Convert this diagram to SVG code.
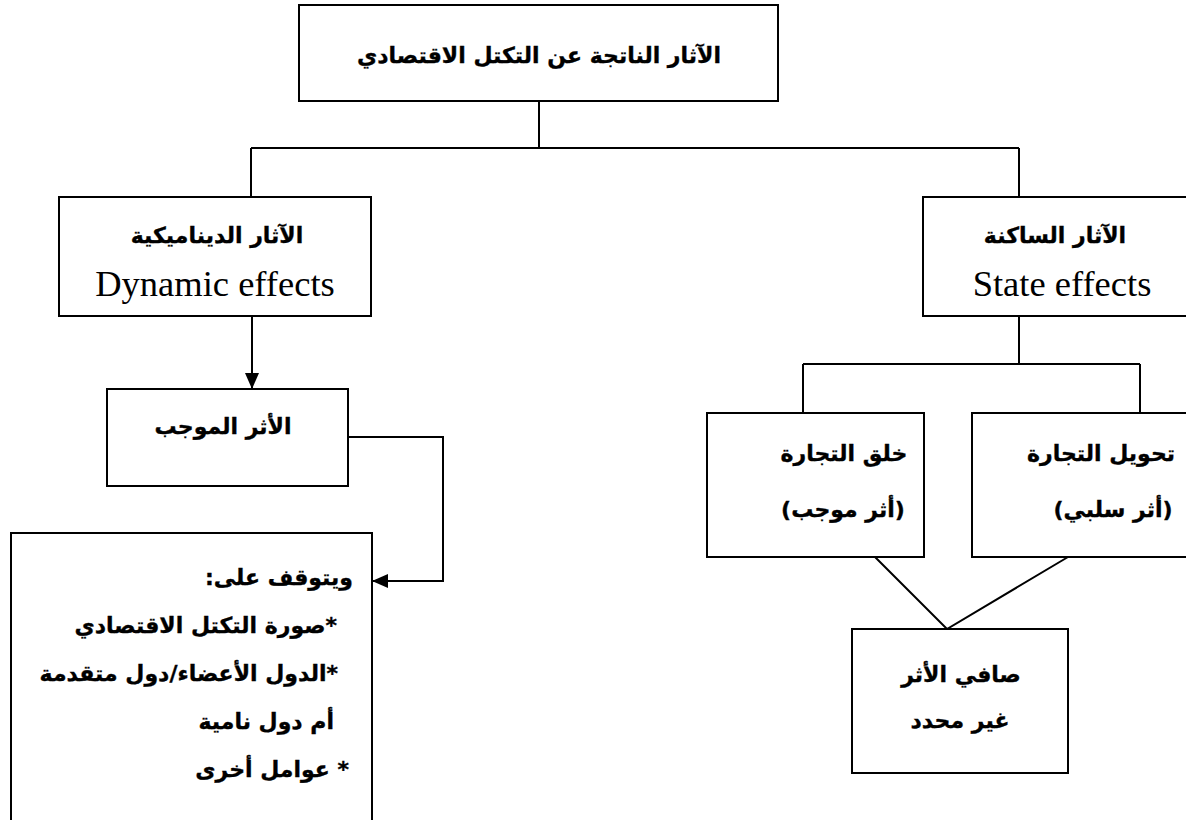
<svg xmlns="http://www.w3.org/2000/svg" width="1186" height="820" viewBox="0 0 1186 820">
<defs>
<style>
.box{fill:#fff;stroke:#000;stroke-width:2}
.ln{fill:none;stroke:#000;stroke-width:2}
.ar{font-family:"DejaVu Sans",sans-serif;font-weight:bold;font-size:22px;fill:#000;stroke:#000;stroke-width:0.35}
.en{font-family:"Liberation Serif",serif;font-size:36.5px;fill:#000}
</style>
<marker id="ah" viewBox="0 0 16 14" refX="16" refY="7" markerWidth="16" markerHeight="14" markerUnits="userSpaceOnUse" orient="auto">
<path d="M0,0 L16,7 L0,14 Z" fill="#000"/>
</marker>
</defs>
<rect width="1186" height="820" fill="#fff"/>
<g id="connectors">
<path class="ln" d="M539,101 V148 M251,148 H1019 M251,148 V197 M1019,148 V197"/>
<path class="ln" d="M252,316 V389" marker-end="url(#ah)"/>
<path class="ln" d="M348,437 H443 V581 H372" marker-end="url(#ah)"/>
<path class="ln" d="M1019,316 V364 M803,364 H1140 M803,364 V413 M1140,364 V413"/>
<path class="ln" d="M875,557 L947,629 L1068,557"/>
</g>
<g id="top">
<rect class="box" x="299" y="5" width="479" height="96"/>
<text class="ar" x="539" y="63" text-anchor="middle" direction="rtl">الآثار الناتجة عن التكتل الاقتصادي</text>
</g>
<g id="dynamic">
<rect class="box" x="59" y="197" width="312" height="119"/>
<text class="ar" x="217" y="243" text-anchor="middle" direction="rtl">الآثار الديناميكية</text>
<text class="en" x="215" y="296" text-anchor="middle">Dynamic effects</text>
</g>
<g id="static">
<rect class="box" x="923" y="197" width="280" height="119"/>
<text class="ar" x="1055" y="243" text-anchor="middle" direction="rtl">الآثار الساكنة</text>
<text class="en" x="1062" y="296" text-anchor="middle">State effects</text>
</g>
<g id="positive">
<rect class="box" x="107" y="389" width="241" height="97"/>
<text class="ar" x="223" y="434" text-anchor="middle" direction="rtl">الأثر الموجب</text>
</g>
<g id="depends">
<rect class="box" x="11" y="533" width="361" height="300"/>
<text class="ar" x="353" y="585" direction="rtl" text-anchor="start">&#x200F;ويتوقف على:&#x200F;</text>
<text class="ar" x="337" y="633" direction="rtl" text-anchor="start">&#x200F;*صورة التكتل الاقتصادي</text>
<text class="ar" x="338" y="681" direction="rtl" text-anchor="start">&#x200F;*الدول الأعضاء/دول متقدمة</text>
<text class="ar" x="334" y="729" direction="rtl" text-anchor="start">أم دول نامية</text>
<text class="ar" x="349" y="777" direction="rtl" text-anchor="start">&#x200F;* عوامل أخرى</text>
</g>
<g id="creation">
<rect class="box" x="707" y="413" width="217" height="144"/>
<text class="ar" x="844" y="461" text-anchor="middle" direction="rtl">خلق التجارة</text>
<text class="ar" x="843" y="517" text-anchor="middle" direction="rtl">(أثر موجب)</text>
</g>
<g id="diversion">
<rect class="box" x="972" y="413" width="230" height="144"/>
<text class="ar" x="1101" y="461" text-anchor="middle" direction="rtl">تحويل التجارة</text>
<text class="ar" x="1113" y="517" text-anchor="middle" direction="rtl">(أثر سلبي)</text>
</g>
<g id="net">
<rect class="box" x="852" y="629" width="216" height="144"/>
<text class="ar" x="961" y="682" text-anchor="middle" direction="rtl">صافي الأثر</text>
<text class="ar" x="960" y="728" text-anchor="middle" direction="rtl">غير محدد</text>
</g>
</svg>
